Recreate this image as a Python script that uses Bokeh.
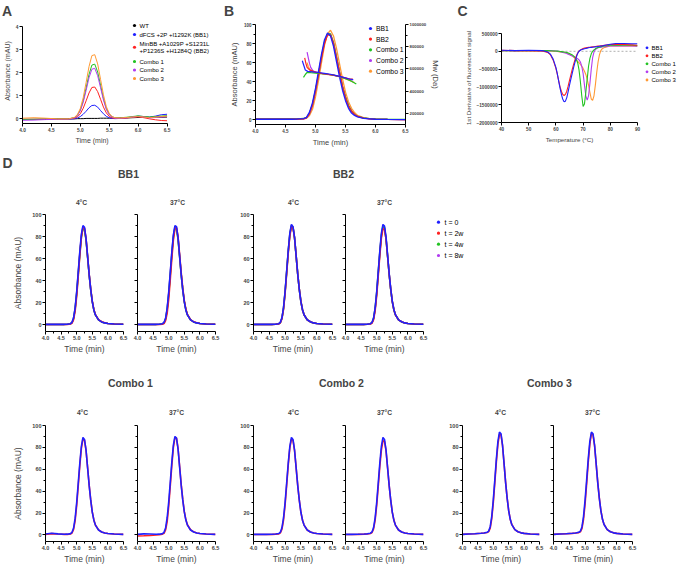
from bokeh.plotting import figure
from bokeh.layouts import row, column
from bokeh.models import (Range1d, FixedTicker, NumeralTickFormatter, BasicTickFormatter,
                          LinearAxis, Label, Title, BoxAnnotation)
from bokeh.embed import file_html
from bokeh.resources import INLINE
from bokeh.core.validation import silence
from bokeh.core.validation.warnings import MISSING_RENDERERS

silence(MISSING_RENDERERS, True)

FONT = "Liberation Sans"
BLUE = "#1f1fff"
RED = "#ff2222"
GREEN = "#22c322"
PURPLE = "#b23cf0"
ORANGE = "#ff9933"
BLACK = "#000000"

# ---------------- Panel A data ----------------
a_labels = ["WT", "dFCS +2P +I1292K (BB1)", "MinBB +A1029P +S1231L\n+P1236S +H1284Q (BB2)",
            "Combo 1", "Combo 2", "Combo 3"]
a_time = [4.0, 4.2, 4.4, 4.6, 4.8, 4.9, 4.95, 5.0, 5.05, 5.1, 5.15, 5.2, 5.25, 5.3, 5.35,
          5.4, 5.45, 5.5, 5.55, 5.6, 5.7, 5.8, 5.9, 6.0, 6.1, 6.2, 6.3, 6.4, 6.5]
a_wt = [-0.02, -0.02, -0.01, -0.01, 0.0, 0.0, 0.01, 0.01, 0.01, 0.02, 0.02, 0.02, 0.02, 0.02, 0.03,
        0.03, 0.03, 0.03, 0.03, 0.03, 0.04, 0.04, 0.05, 0.06, 0.06, 0.06, 0.07, 0.07, 0.08]
a_bb1 = [-0.03, -0.03, -0.02, -0.02, -0.01, 0.01, 0.04, 0.1, 0.2, 0.33, 0.48, 0.58, 0.59, 0.51, 0.36,
         0.22, 0.11, 0.05, 0.02, 0.01, 0.02, 0.05, 0.08, 0.12, 0.1, 0.08, 0.12, 0.18, 0.2]
a_bb2 = [-0.02, -0.02, -0.02, -0.01, 0.0, 0.03, 0.09, 0.22, 0.46, 0.78, 1.12, 1.36, 1.38, 1.18, 0.85,
         0.51, 0.26, 0.11, 0.04, 0.02, 0.02, 0.04, 0.07, 0.09, 0.05, 0.0, -0.04, -0.07, -0.08]
a_combo1 = [-0.03, -0.02, -0.01, 0.0, 0.0, 0.06, 0.16, 0.38, 0.78, 1.33, 1.92, 2.33, 2.37, 2.03, 1.46,
            0.88, 0.45, 0.2, 0.09, 0.05, 0.05, 0.07, 0.1, 0.13, 0.1, 0.08, 0.1, 0.12, 0.14]
a_combo2 = [-0.06, -0.05, -0.03, -0.02, -0.01, 0.05, 0.15, 0.35, 0.72, 1.23, 1.78, 2.15, 2.19, 1.87, 1.35,
            0.82, 0.41, 0.18, 0.07, 0.03, 0.03, 0.05, 0.08, 0.1, 0.08, 0.04, 0.06, 0.08, 0.1]
a_combo3 = [0.03, 0.05, 0.03, 0.0, 0.0, 0.07, 0.19, 0.45, 0.92, 1.57, 2.26, 2.74, 2.78, 2.38, 1.71,
            1.04, 0.53, 0.24, 0.1, 0.05, 0.04, 0.06, 0.08, 0.1, 0.08, 0.05, 0.08, 0.1, 0.12]
a_xticks = [4.0, 4.5, 5.0, 5.5, 6.0, 6.5]
a_yticks = [0, 1, 2, 3, 4]
a_ylim = (-0.2, 4)

# ---------------- Panel B data ----------------
b_labels = ["BB1", "BB2", "Combo 1", "Combo 2", "Combo 3"]
b_time = [4.0, 4.2, 4.4, 4.6, 4.7, 4.8, 4.85, 4.9, 4.95, 5.0, 5.05, 5.1, 5.15, 5.2, 5.25,
          5.3, 5.35, 5.4, 5.45, 5.5, 5.55, 5.6, 5.65, 5.7, 5.8, 5.9, 6.0, 6.2, 6.5]
b_abs_bb1 = [0.5, 0.5, 0.5, 0.5, 0.8, 1.2, 2.5, 8, 18, 33, 51, 69, 84, 91, 88,
             77, 61, 45, 31, 20, 12, 7, 4.5, 3, 1.5, 1, 0.5, 0.3, 0.2]
b_abs_bb2 = [0.5, 0.5, 0.5, 0.5, 0.7, 1, 2, 6.5, 15.5, 30, 47, 65, 80, 89, 89,
             80, 65, 50, 35, 23, 14, 9, 5.5, 3.5, 1.8, 1, 0.5, 0.3, 0.2]
b_abs_combo1 = [1, 1, 1, 1, 1, 1.3, 2.3, 7, 16, 31, 48, 66, 82, 90, 90,
                81, 66, 50, 35, 24, 15, 9, 5.5, 3.5, 2, 1.2, 0.8, 0.5, 0.3]
b_abs_combo2 = [0.5, 0.5, 0.5, 0.5, 0.7, 1, 2, 6.5, 15.5, 30, 47, 66, 81, 90, 90,
                81, 66, 50, 35, 24, 15, 9, 5.5, 3.5, 2, 1, 0.5, 0.3, 0.2]
b_abs_combo3 = [0.5, 0.5, 0.5, 0.5, 0.6, 0.9, 1.5, 4.5, 11, 24, 41, 60, 78, 90, 94,
                88, 75, 59, 43, 29, 19, 12, 7.5, 4.5, 2.2, 1.2, 0.6, 0.3, 0.2]
b_mw_time_bb1 = [4.78, 4.80, 4.83, 4.87, 4.95, 5.05, 5.15, 5.25, 5.35, 5.45, 5.55, 5.63]
b_mw_bb1 = [674000, 640000, 590000, 578000, 574000, 568000, 560000, 552000, 540000, 526000, 512000, 503000]
b_mw_time_bb2 = [4.82, 4.84, 4.86, 4.9, 5.0, 5.1, 5.2, 5.3, 5.4, 5.5, 5.58, 5.62]
b_mw_bb2 = [700000, 650000, 614000, 592000, 571000, 560000, 552000, 544000, 533000, 520000, 507000, 511000]
b_mw_time_combo1 = [4.8, 4.83, 4.86, 4.92, 5.0, 5.1, 5.2, 5.3, 5.4, 5.5, 5.6, 5.68]
b_mw_combo1 = [524000, 550000, 569000, 566000, 563000, 558000, 552000, 544000, 530000, 512000, 490000, 464000]
b_mw_time_combo2 = [4.86, 4.88, 4.9, 4.92, 4.96, 5.05, 5.15, 5.25, 5.35, 5.45, 5.55, 5.62]
b_mw_combo2 = [751000, 700000, 650000, 614000, 580000, 565000, 556000, 548000, 537000, 524000, 510000, 500000]
b_mw_time_combo3 = [4.86, 4.88, 4.92, 4.98, 5.05, 5.15, 5.25, 5.35, 5.45, 5.55, 5.65]
b_mw_combo3 = [657000, 620000, 585000, 570000, 562000, 554000, 547000, 537000, 522000, 500000, 477000]
b_yticks = [0, 20, 40, 60, 80, 100]
b_mw_ticks = [200000, 400000, 600000, 800000, 1000000]

# ---------------- Panel C data ----------------
c_labels = ["BB1", "BB2", "Combo 1", "Combo 2", "Combo 3"]
c_temp = [40, 45, 50, 55, 57, 58, 59, 60, 60.5, 61, 61.5, 62, 62.5, 63, 63.5, 64, 64.5, 65, 65.5,
          66, 66.5, 67, 67.5, 68, 68.5, 69, 69.5, 70, 70.5, 71, 71.5, 72, 72.5, 73, 73.5, 74, 74.5,
          75, 75.5, 76, 76.5, 77, 78, 80, 82, 85, 88, 90]
c_bb1 = [30000, 20000, 30000, 20000, -20000, -80000, -220000, -450000, -620000, -830000, -1030000,
         -1200000, -1340000, -1420000, -1400000, -1300000, -1130000, -950000, -780000, -620000, -460000,
         -310000, -170000, -60000, 0, 30000, 50000, 60000, 70000, 80000, 90000, 100000, 105000, 110000,
         115000, 120000, 125000, 130000, 135000, 140000, 145000, 150000, 170000, 200000, 220000, 220000,
         210000, 210000]
c_bb2 = [30000, 20000, 20000, 10000, -30000, -100000, -250000, -480000, -640000, -820000, -990000,
         -1120000, -1210000, -1240000, -1210000, -1120000, -980000, -820000, -660000, -510000, -370000,
         -240000, -130000, -50000, 10000, 40000, 60000, 80000, 90000, 100000, 105000, 110000, 115000,
         120000, 125000, 130000, 135000, 140000, 145000, 150000, 155000, 160000, 170000, 190000, 200000,
         190000, 180000, 170000]
c_combo1 = [20000, 20000, 20000, 20000, 20000, 15000, 10000, 10000, 5000, 0, -5000, -10000, -15000,
            -20000, -25000, -35000, -45000, -60000, -80000, -100000, -130000, -170000, -230000, -320000,
            -520000, -850000, -1250000, -1550000, -1480000, -1150000, -780000, -420000, -200000, -70000,
            0, 40000, 70000, 90000, 105000, 115000, 125000, 135000, 150000, 170000, 180000, 170000,
            170000, 160000]
c_combo2 = [20000, 20000, 20000, 20000, 20000, 20000, 15000, 10000, 5000, 0, -10000, -20000, -30000,
            -40000, -50000, -60000, -80000, -100000, -115000, -130000, -150000, -170000, -190000,
            -210000, -240000, -300000, -420000, -620000, -950000, -1250000, -1370000, -1250000, -900000,
            -500000, -180000, -20000, 50000, 80000, 100000, 110000, 115000, 120000, 130000, 150000,
            160000, 150000, 150000, 140000]
c_combo3 = [20000, 10000, 10000, 10000, 10000, 10000, 5000, 0, -5000, -10000, -15000, -20000, -25000,
            -30000, -40000, -50000, -60000, -80000, -100000, -130000, -160000, -200000, -240000, -280000,
            -320000, -370000, -420000, -480000, -560000, -650000, -780000, -950000, -1150000, -1340000,
            -1380000, -1250000, -950000, -600000, -300000, -100000, 20000, 70000, 110000, 150000, 160000,
            150000, 150000, 150000]
c_xticks = [40, 50, 60, 70, 80, 90]
c_yticks = [-2000000, -1500000, -1000000, -500000, 0, 500000]
c_baseline = [0, 0]

# ---------------- Panel D data ----------------
d_labels = ["t = 0", "t = 2w", "t = 4w", "t = 8w"]
d_time = [4.0, 4.2, 4.4, 4.6, 4.7, 4.8, 4.85, 4.9, 4.95, 5.0, 5.05, 5.1, 5.15, 5.2,
          5.25, 5.3, 5.35, 5.4, 5.45, 5.5, 5.55, 5.6, 5.7, 5.8, 5.9, 6.0, 6.2, 6.5]
bb1_4c_t0 = [0.5, 0.5, 0.5, 0.5, 0.6, 1.1, 2.3, 6.4, 15.5, 30, 48, 66.5, 82, 90,
             88.5, 78, 62, 45.5, 32, 21, 13.5, 9, 4.5, 2.7, 1.8, 1.3, 0.8, 0.5]
bb1_4c_t2 = [0.3, 0.3, 0.3, 0.3, 0.4, 0.8, 1.6, 4.8, 12.5, 26, 44, 63, 79, 88,
             87.5, 78, 62, 46, 32.5, 21.5, 14, 9.3, 4.7, 2.8, 1.9, 1.3, 0.8, 0.5]
bb1_4c_t4 = [0.4, 0.4, 0.4, 0.4, 0.5, 1, 2, 5.8, 14.5, 28.5, 46, 64, 79.5, 87,
             86, 76.5, 61, 45, 31.5, 21, 13.5, 9, 4.5, 2.7, 1.8, 1.3, 0.8, 0.5]
bb1_4c_t8 = [0.4, 0.4, 0.4, 0.4, 0.5, 1, 2.1, 6, 15, 29.5, 47.5, 65.5, 81, 89,
             87.5, 77.5, 61.5, 45.3, 31.8, 21, 13.5, 9, 4.5, 2.7, 1.8, 1.3, 0.8, 0.5]
bb1_37c_t0 = [0.5, 0.5, 0.5, 0.5, 0.6, 1.1, 2.2, 6, 15, 29.5, 47.5, 66, 81.5, 90,
              89, 79, 62.5, 46, 32, 21, 13.5, 9, 4.5, 2.7, 1.8, 1.3, 0.8, 0.5]
bb1_37c_t2 = [0.3, 0.3, 0.3, 0.3, 0.3, 0.6, 1.2, 3.8, 10.5, 23, 41, 60, 77, 87,
              88, 80, 64, 47.5, 33.5, 22, 14.5, 9.5, 4.8, 2.8, 1.9, 1.3, 0.8, 0.5]
bb1_37c_t4 = [0.4, 0.4, 0.4, 0.4, 0.5, 0.9, 1.8, 5.2, 13.5, 27.5, 45, 63.5, 79, 88,
              87, 77.5, 61.5, 45.5, 32, 21.2, 13.8, 9.2, 4.6, 2.7, 1.8, 1.3, 0.8, 0.5]
bb1_37c_t8 = [0.4, 0.4, 0.4, 0.4, 0.5, 0.9, 1.9, 5.5, 14, 28.5, 46.5, 65, 80.5, 89,
              88, 78, 62, 45.8, 32, 21, 13.6, 9.1, 4.5, 2.7, 1.8, 1.3, 0.8, 0.5]
bb2_4c_t0 = [0.5, 0.5, 0.5, 0.5, 0.6, 1.1, 2.3, 6.4, 15.6, 30.5, 49, 67.5, 83, 91,
             89, 79, 62.5, 46, 32, 21, 13.8, 9.2, 4.6, 2.8, 1.8, 1.3, 0.8, 0.5]
bb2_4c_t2 = [0.4, 0.4, 0.4, 0.4, 0.5, 0.9, 1.9, 5.5, 14, 28.5, 46.5, 65, 80.5, 89,
             88, 78.5, 62.5, 46, 32.3, 21.3, 13.8, 9.2, 4.6, 2.8, 1.8, 1.3, 0.8, 0.5]
bb2_4c_t4 = [0.4, 0.4, 0.4, 0.4, 0.5, 1, 2, 6, 15, 29.5, 48, 66.5, 82, 90,
             88.5, 78.5, 62, 45.8, 32, 21, 13.7, 9.1, 4.6, 2.7, 1.8, 1.3, 0.8, 0.5]
bb2_4c_t8 = [0.4, 0.4, 0.4, 0.4, 0.5, 1, 2.1, 6.1, 15.2, 30, 48.3, 66.8, 82.2, 90.2,
             88.5, 78.3, 62, 45.6, 31.9, 21, 13.7, 9.1, 4.6, 2.7, 1.8, 1.3, 0.8, 0.5]
bb2_37c_t0 = [0.5, 0.5, 0.5, 0.5, 0.6, 1.1, 2.2, 6.2, 15.3, 30, 48.5, 67, 82.8, 91,
              89.5, 79.5, 63, 46.5, 32.5, 21.3, 14, 9.3, 4.6, 2.8, 1.8, 1.3, 0.8, 0.5]
bb2_37c_t2 = [0.4, 0.4, 0.4, 0.4, 0.5, 0.8, 1.6, 4.8, 12.8, 26.5, 44.5, 63, 78.5, 87,
              86.5, 77.5, 62, 46, 32.3, 21.3, 13.8, 9.2, 4.6, 2.8, 1.8, 1.3, 0.8, 0.5]
bb2_37c_t4 = [0.4, 0.4, 0.4, 0.4, 0.5, 1, 2, 5.9, 14.8, 29, 47.3, 65.6, 81, 89,
              87.8, 77.8, 61.8, 45.6, 32, 21, 13.7, 9.1, 4.6, 2.7, 1.8, 1.3, 0.8, 0.5]
bb2_37c_t8 = [0.4, 0.4, 0.4, 0.4, 0.5, 0.9, 1.9, 5.7, 14.5, 28.8, 47, 65.2, 80.8, 89,
              88, 78, 62, 45.8, 32.1, 21.1, 13.7, 9.1, 4.6, 2.7, 1.8, 1.3, 0.8, 0.5]
c1_4c_t0 = [0.8, 1.5, 1, 0.6, 0.7, 1.2, 2.4, 6.3, 15.3, 29.7, 47.7, 65.7, 81, 89.1,
            87.3, 77.4, 61.2, 45, 31.5, 20.7, 13.5, 9, 4.5, 2.7, 1.8, 1.35, 0.8, 0.5]
c1_4c_t2 = [0.5, 1.2, 0.8, 0.5, 0.5, 0.9, 1.8, 5, 13, 27, 45, 63.5, 79, 87.5,
            86.5, 77, 61.5, 45.5, 32, 21, 13.7, 9.1, 4.6, 2.7, 1.8, 1.3, 0.8, 0.5]
c1_37c_t0 = [0.5, 1, 0.8, 0.6, 0.7, 1.2, 2.4, 6.4, 15.5, 30, 48, 66.5, 82, 90,
             88.5, 78.5, 62, 45.5, 32, 21, 13.6, 9, 4.5, 2.7, 1.8, 1.3, 0.8, 0.5]
c1_37c_t2 = [-1, -0.8, -0.5, 0, 0.3, 0.7, 1.5, 4.5, 12, 26, 44.5, 63.5, 80, 89,
             88.5, 79, 63, 46.5, 32.7, 21.5, 14, 9.3, 4.7, 2.8, 1.8, 1.3, 0.8, 0.5]
c2_4c_t0 = [0.5, 0.5, 0.5, 0.6, 0.8, 1.3, 2.5, 6.5, 15.5, 29.7, 47.7, 65.7, 81, 89.1,
            87.3, 77.4, 61.2, 45, 31.5, 20.7, 13.5, 9, 4.5, 2.7, 1.8, 1.35, 0.8, 0.5]
c2_4c_t2 = [0.4, 0.4, 0.4, 0.5, 0.6, 1, 1.9, 5.2, 13.5, 27.5, 45.5, 64, 79.5, 87.5,
            86.3, 76.8, 61, 45, 31.6, 20.8, 13.6, 9, 4.5, 2.7, 1.8, 1.3, 0.8, 0.5]
c2_37c_t0 = [0.5, 0.5, 0.6, 0.8, 1, 1.6, 2.7, 6.7, 15.6, 29.8, 47.7, 65.7, 81, 89.1,
             87.3, 77.4, 61.2, 45, 31.5, 20.7, 13.5, 9, 4.5, 2.7, 1.8, 1.35, 0.8, 0.5]
c2_37c_t2 = [0.4, 0.4, 0.5, 0.7, 0.9, 1.3, 2.2, 5.5, 13.5, 27, 44.5, 62.5, 77.5, 86,
             85.5, 76.5, 61, 45, 31.6, 20.8, 13.6, 9, 4.5, 2.7, 1.8, 1.3, 0.8, 0.5]
c3_4c_t0 = [0.5, 0.8, 1.1, 1.5, 1.8, 2.4, 3.5, 7.5, 17, 32, 50.5, 69.5, 85.5, 94,
            92.5, 82, 65, 47.8, 33.5, 22, 14.3, 9.5, 4.8, 2.9, 1.9, 1.4, 0.8, 0.5]
c3_4c_t2 = [0.5, 0.8, 1.1, 1.5, 1.8, 2.2, 3, 6.2, 15, 29.5, 48, 67, 83, 92,
            91.5, 81.5, 65, 48, 33.7, 22.2, 14.4, 9.6, 4.8, 2.9, 1.9, 1.4, 0.8, 0.5]
c3_37c_t0 = [0.5, 0.8, 1.1, 1.5, 1.8, 2.4, 3.4, 7.3, 16.8, 32, 50.5, 69.5, 85.5, 94,
             92.5, 82, 65, 47.8, 33.5, 22, 14.3, 9.5, 4.8, 2.9, 1.9, 1.4, 0.8, 0.5]
c3_37c_t2 = [0.5, 0.8, 1.1, 1.4, 1.7, 2.1, 2.8, 5.8, 14.2, 28.5, 47, 66.5, 83, 92.5,
             91.5, 81.5, 65, 48, 33.7, 22.2, 14.4, 9.6, 4.8, 2.9, 1.9, 1.4, 0.8, 0.5]
d_xticks = [4.0, 4.5, 5.0, 5.5, 6.0, 6.5]
d_xminor = [4.25, 4.75, 5.25, 5.75, 6.25]
d_yticks = [0, 20, 40, 60, 80, 100]
d_yminor = [10, 30, 50, 70, 90]


# ---------------- helpers ----------------
def no_align(p):
    # keep every figure's own borders: do not align frames across a row
    if hasattr(p, "frame_align"):
        p.frame_align = False
    return p


def base_fig(w, h, l, r, t, b, xr, yr):
    p = figure(width=w, height=h, x_range=Range1d(*xr), y_range=Range1d(*yr),
               min_border_left=l, min_border_right=r, min_border_top=t, min_border_bottom=b,
               toolbar_location=None, tools="", output_backend="svg", title=None)
    p.xgrid.visible = False
    p.ygrid.visible = False
    p.outline_line_color = None
    return no_align(p)


def blank_fig(w, h):
    p = figure(width=w, height=h, x_range=Range1d(0, w), y_range=Range1d(0, h),
               x_axis_type=None, y_axis_type=None, toolbar_location=None, tools="",
               output_backend="svg", title=None, min_border_left=0, min_border_right=0,
               min_border_top=0, min_border_bottom=0)
    p.outline_line_color = None
    return no_align(p)


def style_axis(ax, tick_px, label_px, tick_out=3, minor_out=2, lab_standoff=1, ax_standoff=2):
    ax.axis_line_color = "black"
    ax.axis_line_width = 1
    ax.major_tick_line_color = "black"
    ax.major_tick_out = tick_out
    ax.major_tick_in = 0
    ax.minor_tick_line_color = "black"
    ax.minor_tick_out = minor_out
    ax.minor_tick_in = 0
    ax.major_label_text_font = FONT
    ax.major_label_text_font_size = f"{tick_px}px"
    ax.major_label_text_font_style = "bold"
    ax.major_label_standoff = lab_standoff
    ax.axis_label_text_font = FONT
    ax.axis_label_text_font_size = f"{label_px}px"
    ax.axis_label_text_font_style = "normal"
    ax.axis_label_standoff = ax_standoff


def manual_legend(p, labels, colors, ys, font_px, dot_x, text_x, left, bottom, line_pitch=6.5, r=1.6):
    """Legend drawn as screen-space annotations; positions are page pixels,
    converted to the frame (left, bottom) of figure p."""
    for lab, col, y in zip(labels, colors, ys):
        lines = lab.split("\n")
        for k, line in enumerate(lines):
            p.add_layout(Label(x=text_x - left, y=bottom - (y + k * line_pitch),
                               x_units="screen", y_units="screen", text=line,
                               text_font=FONT, text_font_size=f"{font_px}px",
                               text_color="black", text_align="left", text_baseline="middle"))
        yd = bottom - (y + (len(lines) - 1) * line_pitch / 2)
        xd = dot_x - left
        p.add_layout(BoxAnnotation(left=xd - r, right=xd + r, bottom=yd - r, top=yd + r,
                                   left_units="screen", right_units="screen",
                                   top_units="screen", bottom_units="screen",
                                   fill_color=col, fill_alpha=1, line_color=None,
                                   border_radius=2))


def text_labels(p, items):
    for text, x, y, size in items:
        p.add_layout(Label(x=x, y=y, x_units="screen", y_units="screen", text=text,
                           text_font=FONT, text_font_size=f"{size}px", text_font_style="bold",
                           text_align="center", text_baseline="middle"))


# ---------------- top header with panel letters ----------------
hdr0 = blank_fig(677, 18)
text_labels(hdr0, [("A", 6.5, 8, 14), ("B", 228.5, 8, 14), ("C", 462, 8, 14)])

# ---------------- Panel A ----------------
# frame spans 200 px horizontally (axis drawn over the first 146 px) and 105 px vertically
a_x_end = a_xticks[0] + (a_xticks[-1] - a_xticks[0]) * 200 / 146
a_y_top = a_ylim[1] + (a_ylim[1] - a_ylim[0]) * 8 / 97
pA = base_fig(220, 132, 20, 0, 0, 27, (a_xticks[0], a_x_end), (a_ylim[0], a_y_top))
a_series = [a_wt, a_bb1, a_bb2, a_combo1, a_combo2, a_combo3]
a_colors = [BLACK, BLUE, RED, GREEN, PURPLE, ORANGE]
for ys, col in zip(a_series, a_colors):
    pA.line(a_time, ys, color=col, line_width=1)
pA.xaxis.ticker = FixedTicker(ticks=a_xticks, minor_ticks=[])
pA.xaxis.formatter = NumeralTickFormatter(format="0.0")
pA.xaxis.bounds = (a_xticks[0], a_xticks[-1])
pA.yaxis.ticker = FixedTicker(ticks=a_yticks, minor_ticks=[])
pA.yaxis.bounds = a_ylim
pA.yaxis.axis_label = "Absorbance (mAU)"
style_axis(pA.xaxis[0], 4.8, 7)
style_axis(pA.yaxis[0], 4.8, 7)
pA.add_layout(Title(text="Time (min)", align="left", offset=53, text_font=FONT,
                    text_font_size="7px", text_font_style="normal", standoff=1), "below")
# frame of A: left 20, bottom 123 (page pixels)
manual_legend(pA, a_labels, a_colors, [25, 34, 43.5, 61, 69.5, 78], 6, 132, 137, 20, 123)

# ---------------- Panel B ----------------
pB = base_fig(233, 132, 35, 48, 6, 26, (4.0, 6.5), (-5, 100))
pB.extra_y_ranges = {"mw": Range1d(100000, 1000000)}
b_abs = [b_abs_combo3, b_abs_combo2, b_abs_combo1, b_abs_bb2, b_abs_bb1]
b_mw_t = [b_mw_time_combo3, b_mw_time_combo2, b_mw_time_combo1, b_mw_time_bb2, b_mw_time_bb1]
b_mw = [b_mw_combo3, b_mw_combo2, b_mw_combo1, b_mw_bb2, b_mw_bb1]
b_colors_draw = [ORANGE, PURPLE, GREEN, RED, BLUE]
for ys, col in zip(b_abs, b_colors_draw):
    pB.line(b_time, ys, color=col, line_width=1.3)
for ts, ys, col in zip(b_mw_t, b_mw, b_colors_draw):
    pB.line(ts, ys, color=col, line_width=1.2, y_range_name="mw")
pB.xaxis.ticker = FixedTicker(ticks=a_xticks, minor_ticks=[])
pB.xaxis.formatter = NumeralTickFormatter(format="0.0")
pB.yaxis.ticker = FixedTicker(ticks=b_yticks, minor_ticks=[10, 30, 50, 70, 90])
pB.xaxis.axis_label = "Time (min)"
pB.yaxis.axis_label = "Absorbance (mAU)"
style_axis(pB.xaxis[0], 4.5, 7.5)
style_axis(pB.yaxis[0], 4.5, 7.5)
axB = LinearAxis(y_range_name="mw", axis_label="Mw (Da)",
                 ticker=FixedTicker(ticks=b_mw_ticks, minor_ticks=[300000, 500000, 700000, 900000]),
                 formatter=BasicTickFormatter(use_scientific=False))
style_axis(axB, 4.3, 7.5)
pB.add_layout(axB, "right")
# frame of B: left 255, bottom 124
manual_legend(pB, b_labels, [BLUE, RED, GREEN, PURPLE, ORANGE], [28, 38.6, 49.3, 60, 70.7],
              6.8, 370, 375.5, 255, 124)

# ---------------- Panel C ----------------
pC = base_fig(188, 132, 48, 4, 15, 28, (40, 90), (-2000000, 500000))
pC.line([c_xticks[0], c_xticks[-1]], c_baseline, color="#b0b0b0", line_dash="2 2", line_width=1)
c_series = [c_combo3, c_combo2, c_combo1, c_bb2, c_bb1]
for ys, col in zip(c_series, b_colors_draw):
    pC.line(c_temp, ys, color=col, line_width=1.1)
pC.xaxis.ticker = FixedTicker(ticks=c_xticks, minor_ticks=[])
pC.yaxis.ticker = FixedTicker(ticks=c_yticks, minor_ticks=[])
pC.yaxis.formatter = BasicTickFormatter(use_scientific=False)
pC.xaxis.axis_label = "Temperature (°C)"
pC.yaxis.axis_label = "1st Derivative of fluorescent signal"
style_axis(pC.xaxis[0], 4.7, 6.2)
style_axis(pC.yaxis[0], 4.7, 6.2)
legC = blank_fig(36, 132)
# legC occupies page x 641..677, y 18..150
manual_legend(legC, c_labels, [BLUE, RED, GREEN, PURPLE, ORANGE], [47.3, 55.3, 63.3, 71.3, 79.5],
              6, 646.5, 651, 641, 150, r=1.4)

top_row = row(pA, pB, pC, legC)


# ---------------- Panel D ----------------
def d_sub(w, h, l, r, t, b, series, first=False, show_labels=True):
    p = base_fig(w, h, l, r, t, b, (4.0, 6.5), (-6, 100))
    for ys, col in series:
        p.line(d_time, ys, color=col, line_width=1.6)
    p.xaxis.ticker = FixedTicker(ticks=d_xticks, minor_ticks=d_xminor)
    p.xaxis.formatter = NumeralTickFormatter(format="0.0")
    p.yaxis.ticker = FixedTicker(ticks=d_yticks, minor_ticks=d_yminor)
    p.xaxis.axis_label = "Time (min)"
    if first:
        p.yaxis.axis_label = "Absorbance (mAU)"
    style_axis(p.xaxis[0], 5.5, 8.5, tick_out=3, minor_out=2, lab_standoff=1, ax_standoff=1)
    style_axis(p.yaxis[0], 5.5, 8.5, tick_out=3, minor_out=2, lab_standoff=1, ax_standoff=6)
    if not show_labels:
        p.yaxis.major_label_overrides = {v: "" for v in d_yticks}
    return p


hdr1 = blank_fig(677, 58)
text_labels(hdr1, [("D", 7, 46, 14), ("BB1", 128, 35, 10.5), ("BB2", 343, 35, 10.5),
                   ("4°C", 81, 6, 6.7), ("37°C", 177, 6, 6.7),
                   ("4°C", 293, 6, 6.7), ("37°C", 384, 6, 6.7)])

H1, T1, B1 = 149, 6, 26
d11 = d_sub(131, H1, 45, 8, T1, B1, [(bb1_4c_t8, PURPLE), (bb1_4c_t4, GREEN), (bb1_4c_t2, RED), (bb1_4c_t0, BLUE)], first=True)
d12 = d_sub(95, H1, 6, 11, T1, B1, [(bb1_37c_t8, PURPLE), (bb1_37c_t4, GREEN), (bb1_37c_t2, RED), (bb1_37c_t0, BLUE)], show_labels=False)
d13 = d_sub(112, H1, 27, 6, T1, B1, [(bb2_4c_t8, PURPLE), (bb2_4c_t4, GREEN), (bb2_4c_t2, RED), (bb2_4c_t0, BLUE)])
d14 = d_sub(92, H1, 7, 7, T1, B1, [(bb2_37c_t8, PURPLE), (bb2_37c_t4, GREEN), (bb2_37c_t2, RED), (bb2_37c_t0, BLUE)], show_labels=False)
legD = blank_fig(247, H1)
# legD occupies page x 430..677, y 208..357
manual_legend(legD, d_labels, [BLUE, RED, GREEN, PURPLE], [221.7, 232.7, 243.7, 255],
              7, 438, 444, 430, 357)
d_row1 = row(d11, d12, d13, d14, legD)

hdr2 = blank_fig(677, 61)
text_labels(hdr2, [("Combo 1", 130, 36, 10.5), ("Combo 2", 341, 36, 10.5), ("Combo 3", 549, 36, 10.5),
                   ("4°C", 82, 6, 6.7), ("37°C", 176, 6, 6.7), ("4°C", 293, 6, 6.7),
                   ("37°C", 384, 6, 6.7), ("4°C", 500, 6, 6.7), ("37°C", 592, 6, 6.7)])

H2, T2, B2 = 148, 7, 23
d21 = d_sub(131, H2, 45, 8, T2, B2, [(c1_4c_t2, RED), (c1_4c_t0, BLUE)], first=True)
d22 = d_sub(95, H2, 6, 11, T2, B2, [(c1_37c_t2, RED), (c1_37c_t0, BLUE)], show_labels=False)
d23 = d_sub(112, H2, 27, 6, T2, B2, [(c2_4c_t2, RED), (c2_4c_t0, BLUE)])
d24 = d_sub(102, H2, 7, 17, T2, B2, [(c2_37c_t2, RED), (c2_37c_t0, BLUE)], show_labels=False)
d25 = d_sub(106, H2, 22, 7, T2, B2, [(c3_4c_t2, RED), (c3_4c_t0, BLUE)])
d26 = d_sub(131, H2, 7, 45, T2, B2, [(c3_37c_t2, RED), (c3_37c_t0, BLUE)], show_labels=False)
d_row2 = row(d21, d22, d23, d24, d25, d26)

layout = column(hdr0, top_row, hdr1, d_row1, hdr2, d_row2)

open("out.html", "w").write(file_html(layout, INLINE))
